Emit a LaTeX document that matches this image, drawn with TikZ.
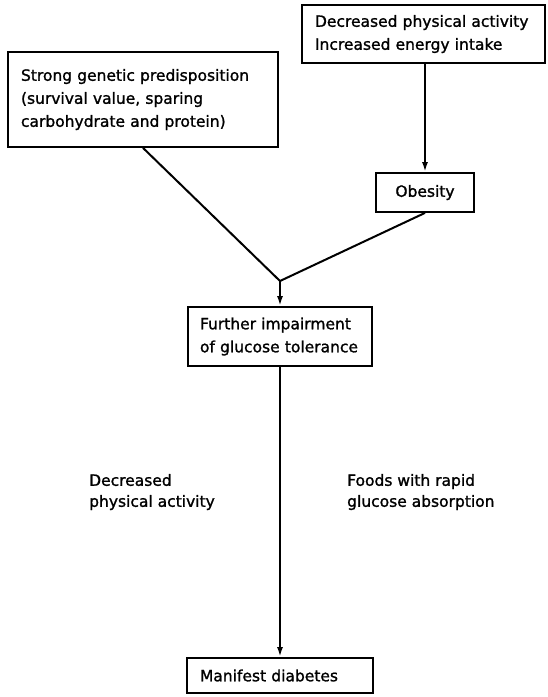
\documentclass[tikz,border=0pt]{standalone}
\usepackage{fontspec}
\setmainfont{DejaVu Sans}[BoldFont=DejaVu Sans, BoldFeatures={FakeBold=1.3}]
\usetikzlibrary{arrows.meta}
\tikzset{
	box/.style={draw, line width=1.8pt, inner xsep=13pt, inner ysep=0pt, align=left, font=\fontsize{15.5}{23}\selectfont\bfseries},
	lbl/.style={inner sep=0pt, anchor=west, align=left, font=\fontsize{15.5}{21}\selectfont\bfseries},
	arr/.style={line width=2pt, -{Latex[length=10pt,width=6pt]}},
	ln/.style={line width=2pt}
}
\begin{document}
\begin{tikzpicture}[x=1pt, y=-1pt]
				\useasboundingbox (0, 0) rectangle (547, 697);
				
				\node[box, text width=217pt, minimum height=58pt] (dpa) at (423.5, 34) {Decreased physical activity\\Increased energy intake};
				\node[box, text width=244pt, minimum height=95pt] (gen) at (143, 99.5) {Strong genetic predisposition\\(survival value, sparing\\carbohydrate and protein)};
				\node[box, text width=72pt, minimum height=39pt, align=center] (ob) at (425, 192.5) {Obesity};
				\node[box, text width=160pt, inner xsep=12pt, minimum height=59pt] (fur) at (280, 336.5) {Further impairment\\of glucose tolerance};
				\node[box, text width=160pt, minimum height=35pt] (man) at (280, 675.5) {Manifest diabetes};
				\coordinate (jn) at (280, 281);
				
				\draw[arr] (ob |- dpa.south) -- (ob.north);
				\draw[ln] (gen.south) -- (jn);
				\draw[ln] (ob.south) -- (jn);
				\draw[arr] (jn) -- (fur.north);
				\draw[arr] (fur.south) -- (man.north);
				
				\node[lbl] (dec) at (89, 492) {Decreased\\physical activity};
				\node[lbl] (foods) at (347, 492) {Foods with rapid\\glucose absorption};
			\end{tikzpicture}
\end{document}
